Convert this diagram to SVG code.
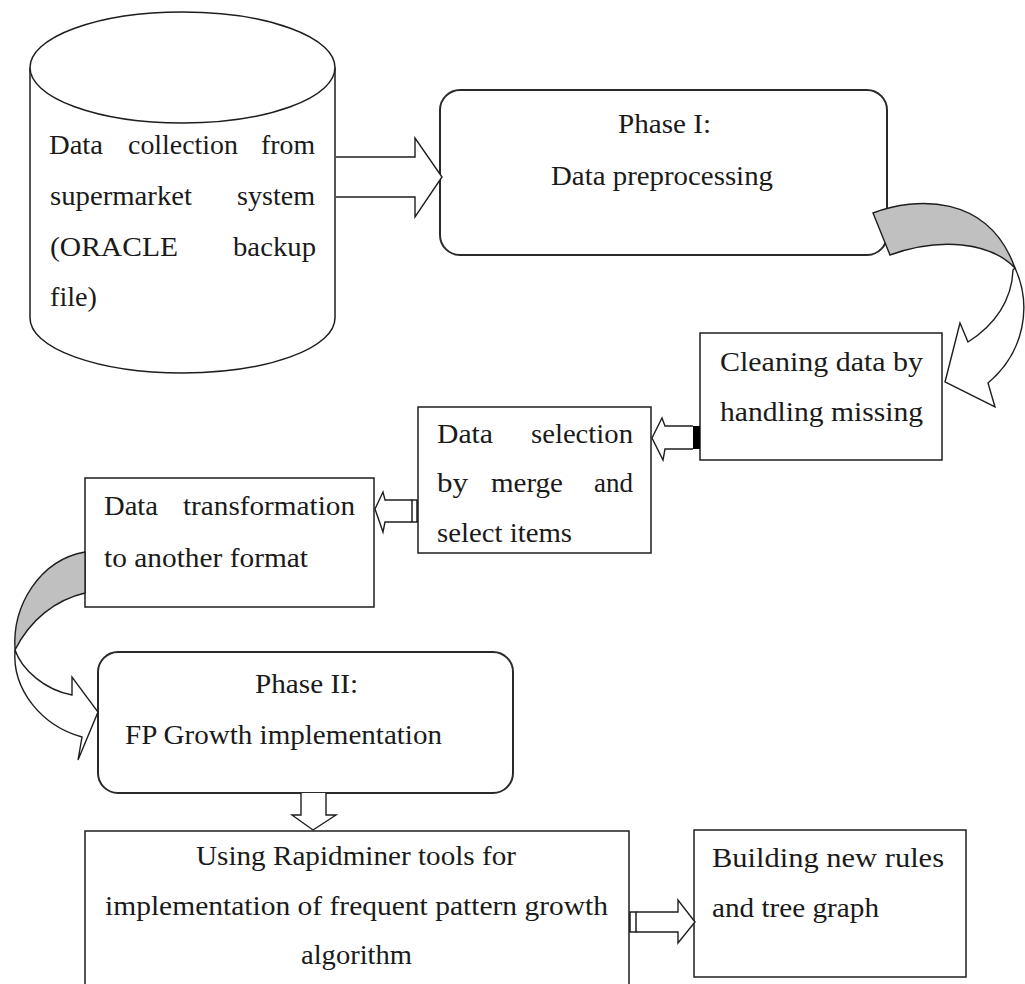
<svg xmlns="http://www.w3.org/2000/svg" width="1025" height="984" viewBox="0 0 1025 984">
  <style>
    .box { fill: #ffffff; stroke: #1e1e1e; stroke-width: 1.5; }
    .rbox { fill: #ffffff; stroke: #2a2a2a; stroke-width: 2; }
    .t { font-family: "Liberation Serif", "Times New Roman", serif; font-size: 27px; fill: #1a1a1a; }
    .arrow { fill: #ffffff; stroke: #1e1e1e; stroke-width: 1.4; stroke-linejoin: miter; }
    .back { fill: #c0c0c0; stroke: #1e1e1e; stroke-width: 1.4; }
    .stripe { fill: #ffffff; stroke: #111111; stroke-width: 1.4; }
  </style>
  <rect x="0" y="0" width="1025" height="984" fill="#ffffff"/>

  <!-- data source cylinder -->
  <g id="node-source">
    <path class="box" d="M30,67.5 L30,318 A152.5,55 0 0 0 335,318 L335,67.5"/>
    <ellipse class="box" cx="182.5" cy="67.5" rx="152.5" ry="55.5"/>
    <text class="t" x="49" y="154" textLength="54" lengthAdjust="spacingAndGlyphs">Data</text>
    <text class="t" x="128" y="154" textLength="110" lengthAdjust="spacingAndGlyphs">collection</text>
    <text class="t" x="261" y="154" textLength="54" lengthAdjust="spacingAndGlyphs">from</text>
    <text class="t" x="50" y="205" textLength="142" lengthAdjust="spacingAndGlyphs">supermarket</text>
    <text class="t" x="237" y="205" textLength="78" lengthAdjust="spacingAndGlyphs">system</text>
    <text class="t" x="50" y="256" textLength="128" lengthAdjust="spacingAndGlyphs">(ORACLE</text>
    <text class="t" x="233" y="256" textLength="83" lengthAdjust="spacingAndGlyphs">backup</text>
    <text class="t" x="50" y="306" textLength="47" lengthAdjust="spacingAndGlyphs">file)</text>
  </g>

  <!-- phase I -->
  <g id="node-phase1">
    <rect class="rbox" x="440" y="90" width="447" height="165" rx="20" ry="20"/>
    <text class="t" x="618" y="133" textLength="93" lengthAdjust="spacingAndGlyphs">Phase I:</text>
    <text class="t" x="551" y="185" textLength="222" lengthAdjust="spacingAndGlyphs">Data preprocessing</text>
  </g>

  <!-- cleaning -->
  <g id="node-cleaning">
    <rect class="box" x="700" y="333" width="242" height="127"/>
    <text class="t" x="720" y="371" textLength="203" lengthAdjust="spacingAndGlyphs">Cleaning data by</text>
    <text class="t" x="720" y="421" textLength="203" lengthAdjust="spacingAndGlyphs">handling missing</text>
  </g>

  <!-- selection -->
  <g id="node-selection">
    <rect class="box" x="418" y="407" width="233" height="146"/>
    <text class="t" x="437" y="443" textLength="56" lengthAdjust="spacingAndGlyphs">Data</text>
    <text class="t" x="531" y="443" textLength="102" lengthAdjust="spacingAndGlyphs">selection</text>
    <text class="t" x="437" y="492" textLength="31" lengthAdjust="spacingAndGlyphs">by</text>
    <text class="t" x="491" y="492" textLength="72" lengthAdjust="spacingAndGlyphs">merge</text>
    <text class="t" x="594" y="492" textLength="39" lengthAdjust="spacingAndGlyphs">and</text>
    <text class="t" x="437" y="542" textLength="135" lengthAdjust="spacingAndGlyphs">select items</text>
  </g>

  <!-- transformation -->
  <g id="node-transformation">
    <rect class="box" x="85" y="478" width="289" height="129"/>
    <text class="t" x="104" y="515" textLength="54" lengthAdjust="spacingAndGlyphs">Data</text>
    <text class="t" x="183" y="515" textLength="172" lengthAdjust="spacingAndGlyphs">transformation</text>
    <text class="t" x="104" y="567" textLength="204" lengthAdjust="spacingAndGlyphs">to another format</text>
  </g>

  <!-- phase II -->
  <g id="node-phase2">
    <rect class="rbox" x="98" y="652" width="415" height="141" rx="20" ry="20"/>
    <text class="t" x="255" y="693" textLength="103" lengthAdjust="spacingAndGlyphs">Phase II:</text>
    <text class="t" x="125" y="744" textLength="317" lengthAdjust="spacingAndGlyphs">FP Growth implementation</text>
  </g>

  <!-- rapidminer -->
  <g id="node-rapidminer">
    <rect class="box" x="85" y="831" width="544" height="175"/>
    <text class="t" x="196" y="865" textLength="320" lengthAdjust="spacingAndGlyphs">Using Rapidminer tools for</text>
    <text class="t" x="105" y="915" textLength="503" lengthAdjust="spacingAndGlyphs">implementation of frequent pattern growth</text>
    <text class="t" x="301" y="964" textLength="111" lengthAdjust="spacingAndGlyphs">algorithm</text>
  </g>

  <!-- rules -->
  <g id="node-rules">
    <rect class="box" x="694" y="830" width="272" height="147"/>
    <text class="t" x="712" y="867" textLength="232" lengthAdjust="spacingAndGlyphs">Building new rules</text>
    <text class="t" x="712" y="917" textLength="167" lengthAdjust="spacingAndGlyphs">and tree graph</text>
  </g>

  <!-- connectors -->
  <g id="connectors">
    <!-- source to phase I -->
    <path class="arrow" d="M336,157 L415,157 L415,138 L442,177 L415,217 L415,197 L336,197"/>

    <!-- phase I curving down to cleaning -->
    <path class="back" d="M873,213 C915,197 988,193 1015,268 C990,242 940,237 890,255 Z"/>
    <path class="arrow" d="M1015,268 C1032,305 1025,352 988,383 L995,407 L945,382 L960,323 L968,342 C995,325 1012,300 1013,270 Z"/>

    <!-- cleaning to selection -->
    <path class="arrow" d="M693,426 L665,426 L662,418 L652,438 L663,460 L665,449 L693,449"/>
    <rect x="693" y="426" width="7" height="23" fill="#000000"/>

    <!-- selection to transformation -->
    <path class="arrow" d="M412,500 L385,500 L383,492 L375,509 L383,532 L385,522 L412,522"/>
    <rect class="stripe" x="412" y="500" width="5" height="22"/>

    <!-- transformation curving down to phase II -->
    <path class="back" d="M85,552 C40,560 12,605 15,650 C30,620 55,600 85,593 Z"/>
    <path class="arrow" d="M15,650 C12,690 42,726 82,737 L78,760 L98,712 L72,677 L72,695 C45,690 22,670 15,650 Z"/>

    <!-- phase II down to rapidminer -->
    <path class="arrow" d="M301,793 L301,815 L292,815 L313,830 L336,815 L326,815 L326,793"/>

    <!-- rapidminer to rules -->
    <path class="arrow" d="M636,912 L678,912 L678,900 L695,922 L678,943 L678,932 L636,932"/>
    <rect class="stripe" x="630" y="912" width="6" height="20"/>
  </g>
</svg>
